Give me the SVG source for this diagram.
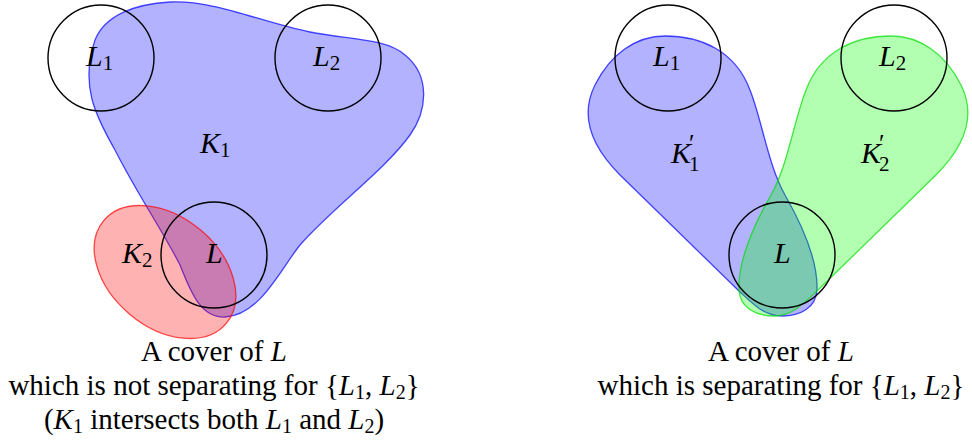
<svg xmlns="http://www.w3.org/2000/svg" width="972" height="443" viewBox="0 0 972 443">
<style>
.lbl{font-family:"Liberation Serif","Times New Roman",serif;font-size:30px;fill:#000}
.it{font-style:italic}
.sub{font-size:21px;font-style:normal}
.up{font-style:normal}
.cap{font-family:"Liberation Serif","Times New Roman",serif;font-size:29px;fill:#000;text-anchor:middle}
.csub{font-size:20px;font-style:normal}
.ring{fill:none;stroke:#000;stroke-width:1.4}
.blue{fill:#0000ff;fill-opacity:0.3;stroke:#0000ff;stroke-opacity:0.7;stroke-width:1.3}
.red{fill:#ff0000;fill-opacity:0.3;stroke:#ff0000;stroke-opacity:0.7;stroke-width:1.3}
.green{fill:#00ff00;fill-opacity:0.3;stroke:#00dd00;stroke-opacity:0.7;stroke-width:1.3}
</style>
<rect width="972" height="443" fill="#fff"/>

<g id="left-panel">
  <g id="K1">
    <path class="blue" d="M170,2 C215,0 260,22 310,32 C350,40 385,38 405,55 C430,75 428,110 410,135 C385,170 330,210 300,245 C280,270 260,315 225,317 C200,318 190,290 180,265 C165,235 135,190 115,150 C95,115 80,85 95,40 C105,15 135,4 170,2 Z"/>
    <text class="lbl it" x="200" y="153">K<tspan class="sub" dy="4">1</tspan></text>
  </g>
  <g id="K2">
    <ellipse class="red" cx="165" cy="272" rx="80" ry="55" transform="rotate(40 165 272)"/>
    <text class="lbl it" x="122" y="263">K<tspan class="sub" dy="4">2</tspan></text>
  </g>
  <g id="L1-left">
    <circle class="ring" cx="101" cy="58" r="53"/>
    <text class="lbl it" x="86" y="66">L<tspan class="sub" dy="4">1</tspan></text>
  </g>
  <g id="L2-left">
    <circle class="ring" cx="328" cy="58" r="53"/>
    <text class="lbl it" x="313" y="66">L<tspan class="sub" dy="4">2</tspan></text>
  </g>
  <g id="L-left">
    <circle class="ring" cx="214" cy="255" r="53"/>
    <text class="lbl it" x="206" y="263">L</text>
  </g>
  <g id="caption-left">
    <text class="cap" x="214" y="361">A cover of <tspan font-style="italic">L</tspan></text>
    <text class="cap" x="214" y="395">which is not separating for {<tspan font-style="italic">L</tspan><tspan class="csub" dy="4">1</tspan><tspan dy="-4">, </tspan><tspan font-style="italic">L</tspan><tspan class="csub" dy="4">2</tspan><tspan dy="-4">}</tspan></text>
    <text class="cap" x="214" y="429">(<tspan font-style="italic">K</tspan><tspan class="csub" dy="4">1</tspan><tspan dy="-4"> intersects both </tspan><tspan font-style="italic">L</tspan><tspan class="csub" dy="4">1</tspan><tspan dy="-4"> and </tspan><tspan font-style="italic">L</tspan><tspan class="csub" dy="4">2</tspan><tspan dy="-4">)</tspan></text>
  </g>
</g>

<g id="right-panel">
  <g id="K1prime">
    <path class="blue" d="M782,316 C765,316 755,306 740,292 L620,175 C590,145 580,115 595,85 C610,55 635,36 665,36 C700,36 735,50 750,90 C762,120 768,165 785,195 C805,230 818,262 817,290 C816,308 800,316 782,316 Z"/>
  </g>
  <g id="K2prime">
    <path class="green" transform="translate(1556,0) scale(-1,1)" d="M782,316 C765,316 755,306 740,292 L620,175 C590,145 580,115 595,85 C610,55 635,36 665,36 C700,36 735,50 750,90 C762,120 768,165 785,195 C805,230 818,262 817,290 C816,308 800,316 782,316 Z"/>
  </g>
  <g id="K1prime-label">
    <text class="lbl it" x="671" y="163">K<tspan class="up" font-size="25" x="689" y="152">′</tspan><tspan class="up" font-size="21" x="689" y="171">1</tspan></text>
  </g>
  <g id="K2prime-label">
    <text class="lbl it" x="861" y="163">K<tspan class="up" font-size="25" x="879" y="152">′</tspan><tspan class="up" font-size="21" x="879" y="171">2</tspan></text>
  </g>
  <g id="L1-right">
    <circle class="ring" cx="668" cy="58" r="53"/>
    <text class="lbl it" x="653" y="66">L<tspan class="sub" dy="4">1</tspan></text>
  </g>
  <g id="L2-right">
    <circle class="ring" cx="894" cy="58" r="53"/>
    <text class="lbl it" x="879" y="66">L<tspan class="sub" dy="4">2</tspan></text>
  </g>
  <g id="L-right">
    <circle class="ring" cx="782" cy="255" r="53"/>
    <text class="lbl it" x="774" y="263">L</text>
  </g>
  <g id="caption-right">
    <text class="cap" x="781" y="361">A cover of <tspan font-style="italic">L</tspan></text>
    <text class="cap" x="781" y="395">which is separating for {<tspan font-style="italic">L</tspan><tspan class="csub" dy="4">1</tspan><tspan dy="-4">, </tspan><tspan font-style="italic">L</tspan><tspan class="csub" dy="4">2</tspan><tspan dy="-4">}</tspan></text>
  </g>
</g>
</svg>
